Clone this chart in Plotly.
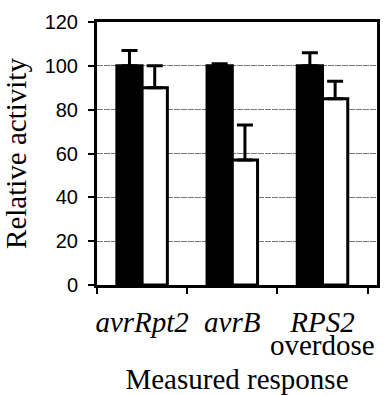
import plotly.graph_objects as go

categories = ["avrRpt2", "avrB", "RPS2 overdose"]
tick_labels = ["<i>avrRpt2</i>", "<i>avrB</i>", "<i>RPS2</i>"]
second_line = ["", "", "overdose"]
black_values = [100, 100, 100]
black_err = [7, 1, 6]
white_values = [90, 57, 85]
white_err = [10, 16, 8]
y_ticks = [0, 20, 40, 60, 80, 100, 120]

fig = go.Figure()
fig.add_trace(go.Bar(
    x=categories, y=black_values,
    marker=dict(color="black", line=dict(color="black", width=3)),
    error_y=dict(type="data", array=black_err, arrayminus=[0, 0, 0], symmetric=False,
                 color="black", thickness=3, width=8),
    showlegend=False,
))
fig.add_trace(go.Bar(
    x=categories, y=white_values,
    marker=dict(color="white", line=dict(color="black", width=3)),
    error_y=dict(type="data", array=white_err, arrayminus=[0, 0, 0], symmetric=False,
                 color="black", thickness=3, width=8),
    showlegend=False,
))

for cat, txt in zip(categories, second_line):
    if txt:
        fig.add_annotation(x=cat, xref="x", y=-0.158, yref="paper", yanchor="top",
                           text=txt, showarrow=False,
                           font=dict(family="Liberation Serif", size=29, color="black"))

fig.update_layout(
    width=391, height=395,
    margin=dict(l=97, r=14, t=22, b=110),
    paper_bgcolor="white", plot_bgcolor="white",
    barmode="group", bargap=0.44, bargroupgap=0,
    font=dict(family="Liberation Serif", color="black"),
)
fig.update_xaxes(
    tickmode="array", tickvals=categories, ticktext=tick_labels,
    showline=True, linecolor="black", linewidth=3, mirror=True,
    ticks="outside", tickson="boundaries", ticklen=6, tickwidth=2, tickcolor="black",
    tickangle=0, automargin=False, ticklabelstandoff=9,
    tickfont=dict(family="Liberation Serif", size=29, color="black"),
    title=dict(text="Measured response", font=dict(family="Liberation Serif", size=29), standoff=42),
    showgrid=False,
)
fig.update_yaxes(
    range=[0, 120], tickvals=y_ticks, ticktext=[str(v) for v in y_ticks],
    showline=True, linecolor="black", linewidth=3, mirror=True,
    ticks="outside", ticklen=6, tickwidth=2, tickcolor="black",
    ticklabelstandoff=6,
    tickfont=dict(family="Liberation Sans", size=20, color="black"),
    showgrid=True, gridcolor="#777", gridwidth=1, griddash="6px,1px",
    zeroline=False, automargin=False,
    title=dict(text="Relative activity", font=dict(family="Liberation Serif", size=29), standoff=16),
)

fig.write_html("out.html")
